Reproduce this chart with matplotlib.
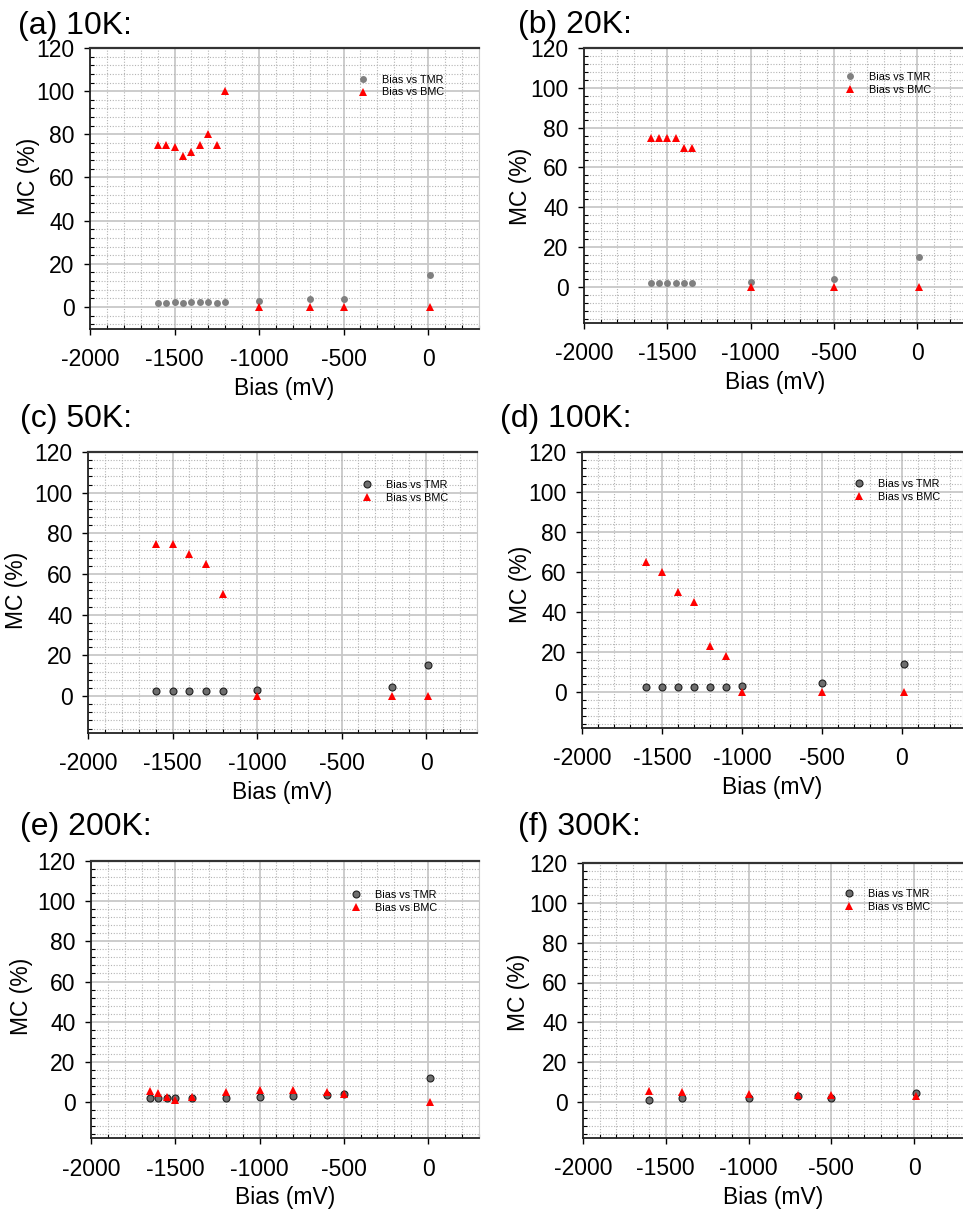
import matplotlib
matplotlib.use('Agg')
import matplotlib.pyplot as plt
from matplotlib.ticker import MultipleLocator

plt.rcParams['font.family'] = ['Liberation Sans', 'DejaVu Sans']
plt.rcParams['axes.unicode_minus'] = False

# ---- data ----
titles = ['(a) 10K:', '(b) 20K:', '(c) 50K:', '(d) 100K:', '(e) 200K:', '(f) 300K:']

bias_tmr_10 = [-1600, -1550, -1500, -1450, -1400, -1350, -1300, -1250, -1200, -1000, -700, -500, 10]
tmr_10 = [2.0, 2.0, 2.1, 2.0, 2.1, 2.1, 2.1, 2.0, 2.3, 2.7, 3.5, 3.9, 14.8]
bias_bmc_10 = [-1600, -1550, -1500, -1450, -1400, -1350, -1300, -1250, -1200, -1000, -700, -500, 10]
bmc_10 = [75, 75, 74, 70, 72, 75, 80, 75, 100, 0, 0, 0, 0]

bias_tmr_20 = [-1600, -1550, -1500, -1450, -1400, -1350, -1000, -500, 10]
tmr_20 = [2.1, 1.9, 2.1, 2.1, 2.0, 2.1, 2.5, 4.0, 14.9]
bias_bmc_20 = [-1600, -1550, -1500, -1450, -1400, -1350, -1000, -500, 10]
bmc_20 = [75, 75, 75, 75, 70, 70, 0, 0, 0]

bias_tmr_50 = [-1600, -1500, -1400, -1300, -1200, -1000, -200, 10]
tmr_50 = [2.3, 2.3, 2.3, 2.4, 2.4, 2.8, 4.4, 15.1]
bias_bmc_50 = [-1600, -1500, -1400, -1300, -1200, -1000, -200, 10]
bmc_50 = [75, 75, 70, 65, 50, 0, 0, 0]

bias_tmr_100 = [-1600, -1500, -1400, -1300, -1200, -1100, -1000, -500, 10]
tmr_100 = [2.3, 2.3, 2.4, 2.5, 2.5, 2.7, 3.0, 4.3, 14.2]
bias_bmc_100 = [-1600, -1500, -1400, -1300, -1200, -1100, -1000, -500, 10]
bmc_100 = [65, 60, 50, 45, 23, 18, 0, 0, 0]

bias_tmr_200 = [-1650, -1600, -1550, -1500, -1400, -1200, -1000, -800, -600, -500, 10]
tmr_200 = [2.0, 2.0, 1.8, 2.2, 1.8, 2.2, 2.7, 3.1, 3.6, 4.0, 11.9]
bias_bmc_200 = [-1650, -1600, -1550, -1500, -1400, -1200, -1000, -800, -600, -500, 10]
bmc_200 = [5.6, 4.6, 2.7, 1.0, 2.3, 4.8, 6.1, 6.1, 5.0, 4.1, 0.2]

bias_tmr_300 = [-1600, -1400, -1000, -700, -500, 10]
tmr_300 = [1.2, 1.8, 1.8, 2.9, 2.2, 4.5]
bias_bmc_300 = [-1600, -1400, -1000, -700, -500, 10]
bmc_300 = [5.4, 5.2, 4.2, 3.4, 3.4, 2.9]

x_ticks = [-2000, -1500, -1000, -500, 0]
y_ticks = [0, 20, 40, 60, 80, 100, 120]

all_tmr = [(bias_tmr_10, tmr_10), (bias_tmr_20, tmr_20), (bias_tmr_50, tmr_50),
           (bias_tmr_100, tmr_100), (bias_tmr_200, tmr_200), (bias_tmr_300, tmr_300)]
all_bmc = [(bias_bmc_10, bmc_10), (bias_bmc_20, bmc_20), (bias_bmc_50, bmc_50),
           (bias_bmc_100, bmc_100), (bias_bmc_200, bmc_200), (bias_bmc_300, bmc_300)]

# ---- layout (pixels of a 963x1214 canvas) ----
W, H = 963, 1214
# px of x=-2000, px of x=0, px of y=120, px of y=0, xmax, ymin
frames = [(90, 428, 48, 307, 300, -10),
          (584, 917, 48, 287, 300, -18),
          (88, 426, 452, 696, 300, -18),
          (582, 902, 452, 692, 380, -18),
          (91, 428, 861, 1102, 300, -18),
          (583, 914, 863, 1102, 300, -18)]
title_pos = [(18, 34), (518, 33), (20, 427), (500, 427), (20, 835), (518, 835)]
# x = right edge of the rotated label (px), y = centre (px)
ylab_pos = [(40, 176), (532, 186), (28, 590), (532, 584), (33, 996), (530, 992)]
leg_pos = [(0.688, 0.905), (0.681, 0.913), (0.703, 0.90), (0.713, 0.902), (0.67, 0.895), (0.685, 0.905)]

fig = plt.figure(figsize=(W / 100, H / 100), dpi=100)

for i in range(6):
    xa, x0, y120, y0, xmax, ymin = frames[i]
    sx = (x0 - xa) / 2000.0
    sy = (y0 - y120) / 120.0
    right = x0 + xmax * sx
    bottom = y0 - ymin * sy
    wpx = right - xa
    hpx = bottom - y120
    ax = fig.add_axes([xa / W, 1 - bottom / H, wpx / W, hpx / H])
    ax.set_xlim(-2000, xmax)
    ax.set_ylim(ymin, 120)

    if i < 2:
        tmr_style = dict(color='#808080', mec='#808080', mew=0)
    else:
        tmr_style = dict(color='#6e6e6e', mec='#202020', mew=0.8)
    bx, by = all_tmr[i]
    ax.plot(bx, by, 'o', ms=5, label='Bias vs TMR', zorder=3, **tmr_style)
    bx, by = all_bmc[i]
    ax.plot(bx, by, '^', ms=5.6, color='#ff0000', mew=0, label='Bias vs BMC', zorder=4)

    ax.set_xticks(x_ticks)
    ax.set_yticks(y_ticks)
    ax.xaxis.set_minor_locator(MultipleLocator(100))
    ax.yaxis.set_minor_locator(MultipleLocator(4))
    ax.grid(True, which='major', color='#c8c8c8', lw=1.3, zorder=0)
    ax.grid(True, which='minor', color='#b4b4b4', lw=0.8, ls=(0, (1, 1.5)), zorder=0)
    ax.set_axisbelow(True)

    ax.tick_params(which='major', direction='out', length=4, width=1, labelsize=16.5, pad=7)
    ax.tick_params(axis='x', which='major', pad=10)
    ax.tick_params(which='minor', direction='in', length=3, width=0.8)
    for s in ['left', 'bottom']:
        ax.spines[s].set_linewidth(1.3)
        ax.spines[s].set_color('#222222')
    ax.spines['top'].set_linewidth(1.6)
    ax.spines['top'].set_color('#333333')
    ax.spines['right'].set_color('#c8c8c8')

    ax.set_xlabel('Bias (mV)', fontsize=16.5)
    ax.xaxis.set_label_coords(0.5, -48.0 / hpx)
    ax.set_ylabel('MC (%)', fontsize=16.5)
    lx, ly = ylab_pos[i]
    ax.yaxis.set_label_coords((lx - xa) / wpx, (bottom - ly) / hpx)

    ax.legend(loc='upper left', bbox_to_anchor=leg_pos[i], frameon=False, fontsize=7.8,
              handlelength=1.0, handletextpad=1.25, labelspacing=0.25,
              borderpad=0, borderaxespad=0)

    tx, ty = title_pos[i]
    fig.text(tx / W, 1 - ty / H, titles[i], fontsize=23, va='baseline', ha='left')

fig.savefig('out.png', dpi=100)
